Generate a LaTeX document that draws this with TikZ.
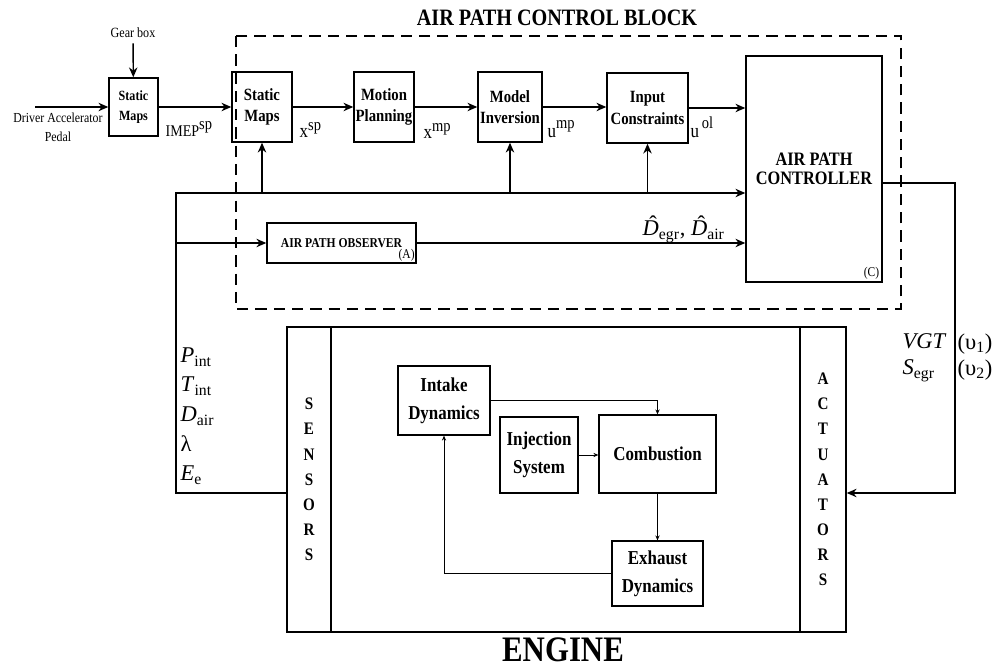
\documentclass[tikz,border=0pt]{standalone}
\usepackage{fontspec}
\setmainfont{Liberation Serif}[FakeStretch=0.86]
\newfontfamily\plainserif{Liberation Serif}
\usetikzlibrary{arrows.meta,calc,positioning}
\newcommand{\lsup}[3]{#1\raisebox{#3}{\fontsize{12}{14}\selectfont #2}}
\newcommand{\hatD}{\ooalign{\textit{D}\cr\hidewidth\kern0.2em\raisebox{0.2em}{ˆ}\hidewidth\cr}}

\begin{document}
\begin{tikzpicture}[x=0.025cm,y=-0.025cm,>={Stealth[length=7pt,width=6pt]},line width=1pt,
  blk/.style={draw,line width=1pt,inner sep=1pt,align=center,font=\bfseries\fontsize{12.2}{15}\selectfont},
  eng/.style={draw,line width=0.9pt,inner sep=1pt,align=center,font=\bfseries\fontsize{14}{20}\selectfont},
  sig/.style={anchor=base west,inner sep=0pt,font=\fontsize{14}{16}\selectfont},
  mlab/.style={inner sep=0pt,align=left,font=\plainserif\fontsize{16}{21}\selectfont},
  thinarr/.style={->,line width=0.6pt,>={Stealth[length=3.5pt,width=3pt]}}]
\useasboundingbox (0,0) rectangle (999,668);
% air path control block
\draw[dash pattern=on 8pt off 5pt,line width=0.9pt] (236,36) rectangle (901,309);
\node[font=\bfseries\fontsize{16.7}{18}\selectfont] (title) at (557,18) {AIR PATH CONTROL BLOCK};
% top chain
\node[blk,font=\bfseries\fontsize{10}{14}\selectfont,minimum width=1.225cm,minimum height=1.45cm] (smapA) at (133.5,107) {Static\\Maps};
\node[blk,minimum width=1.5cm,minimum height=1.75cm] (smapB) at (262,107) {Static\\Maps};
\node[blk,minimum width=1.5cm,minimum height=1.75cm] (mplan) at (384,107) {Motion\\Planning};
\node[blk,minimum width=1.6cm,minimum height=1.75cm] (minv) at (510,107) {Model\\Inversion};
\node[blk,minimum width=2.025cm,minimum height=1.75cm] (icons) at (647.5,108) {Input\\Constraints};
\node[blk,font=\bfseries\fontsize{13.5}{13.5}\selectfont,minimum width=3.4cm,minimum height=5.65cm] (ctrl) at (814,169) {AIR PATH\\CONTROLLER};
\node[font=\fontsize{9.5}{11}\selectfont,anchor=south east,inner sep=2pt] (ctrlC) at (ctrl.south east) {(C)};
\node[blk,font=\bfseries\fontsize{9.6}{11}\selectfont,minimum width=3.725cm,minimum height=1cm] (obs) at (341.5,243) {AIR PATH OBSERVER};
\node[font=\fontsize{9.5}{11}\selectfont,anchor=south east,inner sep=1pt] (obsA) at (obs.south east) {(A)};
% inputs
\node[font=\fontsize{10}{12}\selectfont] (gear) at (133,33) {Gear box};
\node[font=\fontsize{9.8}{13.5}\selectfont,align=center] (drv) at (58,127.5) {Driver Accelerator\\Pedal};
\coordinate (pedal) at (35,107);
\draw[->] (pedal) -- (smapA.west);
\draw[->] (gear) -- (smapA);
% signals between blocks
\draw[->] (smapA) -- (smapB);
\draw[->] (smapB) -- (mplan);
\draw[->] (mplan) -- (minv);
\draw[->] (minv.east) -- (minv.east -| icons.west);
\draw[->] (icons.east) -- (icons.east -| ctrl.west);
\node[sig,font=\fontsize{11.6}{14}\selectfont] (imep) at (165,137) {\lsup{IMEP}{sp}{5pt}};
\node[sig] (xsp) at (299,138) {\lsup{x}{sp}{5pt}};
\node[sig] (xmp) at (423,139) {\lsup{x}{mp}{5pt}};
\node[sig] (ump) at (547,138) {\lsup{u}{mp}{7pt}};
\node[sig] (uol) at (690,138) {\lsup{u}{\,ol}{7pt}};
% engine
\node[draw,line width=1pt,minimum width=11.725cm,minimum height=7.625cm] (engine) at (565.5,479.5) {};
\node[draw,line width=1pt,minimum width=1.1cm,minimum height=7.625cm,align=center,font=\bfseries\fontsize{12.5}{17.9}\selectfont] (sens) at (309,479.5) {S\\E\\N\\S\\O\\R\\S};
\node[draw,line width=1pt,minimum width=1.15cm,minimum height=7.625cm,align=center,font=\bfseries\fontsize{12.5}{17.9}\selectfont] (act) at (823,479.5) {A\\C\\T\\U\\A\\T\\O\\R\\S};
\node[font=\bfseries\fontsize{25.5}{28}\selectfont] (englbl) at (563,650) {ENGINE};
\node[eng,minimum width=2.3cm,minimum height=1.725cm] (intake) at (444,400.5) {Intake\\Dynamics};
\node[eng,minimum width=1.95cm,minimum height=1.9cm] (inj) at (539,455) {Injection\\System};
\node[eng,minimum width=2.925cm,minimum height=1.95cm] (comb) at (657.5,454) {Combustion};
\node[eng,minimum width=2.275cm,minimum height=1.625cm] (exh) at (657.5,573.5) {Exhaust\\Dynamics};
\draw[thinarr] (intake.east) -| (comb.north);
\draw[thinarr] (inj.east) -- (inj.east -| comb.west);
\draw[thinarr] (comb) -- (exh);
\draw[thinarr] (exh.west) -| (intake.south);
% measurements fed back
\coordinate (sfb) at (176,493);
\coordinate (ftop) at (176,193);
\draw[->] (sfb -| sens.west) -- (sfb) -- (ftop) -- (ftop -| ctrl.west);
\foreach \b in {smapB,minv,icons}{\draw[->] (ftop -| \b.south) -- (\b.south);}
\draw[->] (sfb |- obs.west) -- (obs.west);
\draw[->] (obs.east) -- (obs.east -| ctrl.west);
\node[mlab,anchor=north west] (meas) at (180,347) {\textit{P}\textsubscript{int}\\\textit{T}\textsubscript{int}\\\textit{D}\textsubscript{air}\\λ\\\textit{E}\textsubscript{e}};
\node[mlab,anchor=base west] (dhat) at (642,236) {\hatD\textsubscript{egr}, \hatD\textsubscript{air}};
% control outputs
\coordinate (cout) at (955,183);
\draw[->] (cout -| ctrl.east) -- (cout) -- (cout |- sfb) -- (sfb -| act.east);
\node[mlab,anchor=north west,font=\plainserif\fontsize{16}{18.4}\selectfont] (vgt) at (902,333) {\textit{VGT}\\\textit{S}\textsubscript{egr}};
\node[mlab,anchor=north west,font=\plainserif\fontsize{16}{18.4}\selectfont] (ups) at (957,333) {(υ\textsubscript{1})\\(υ\textsubscript{2})};
\end{tikzpicture}
\end{document}
